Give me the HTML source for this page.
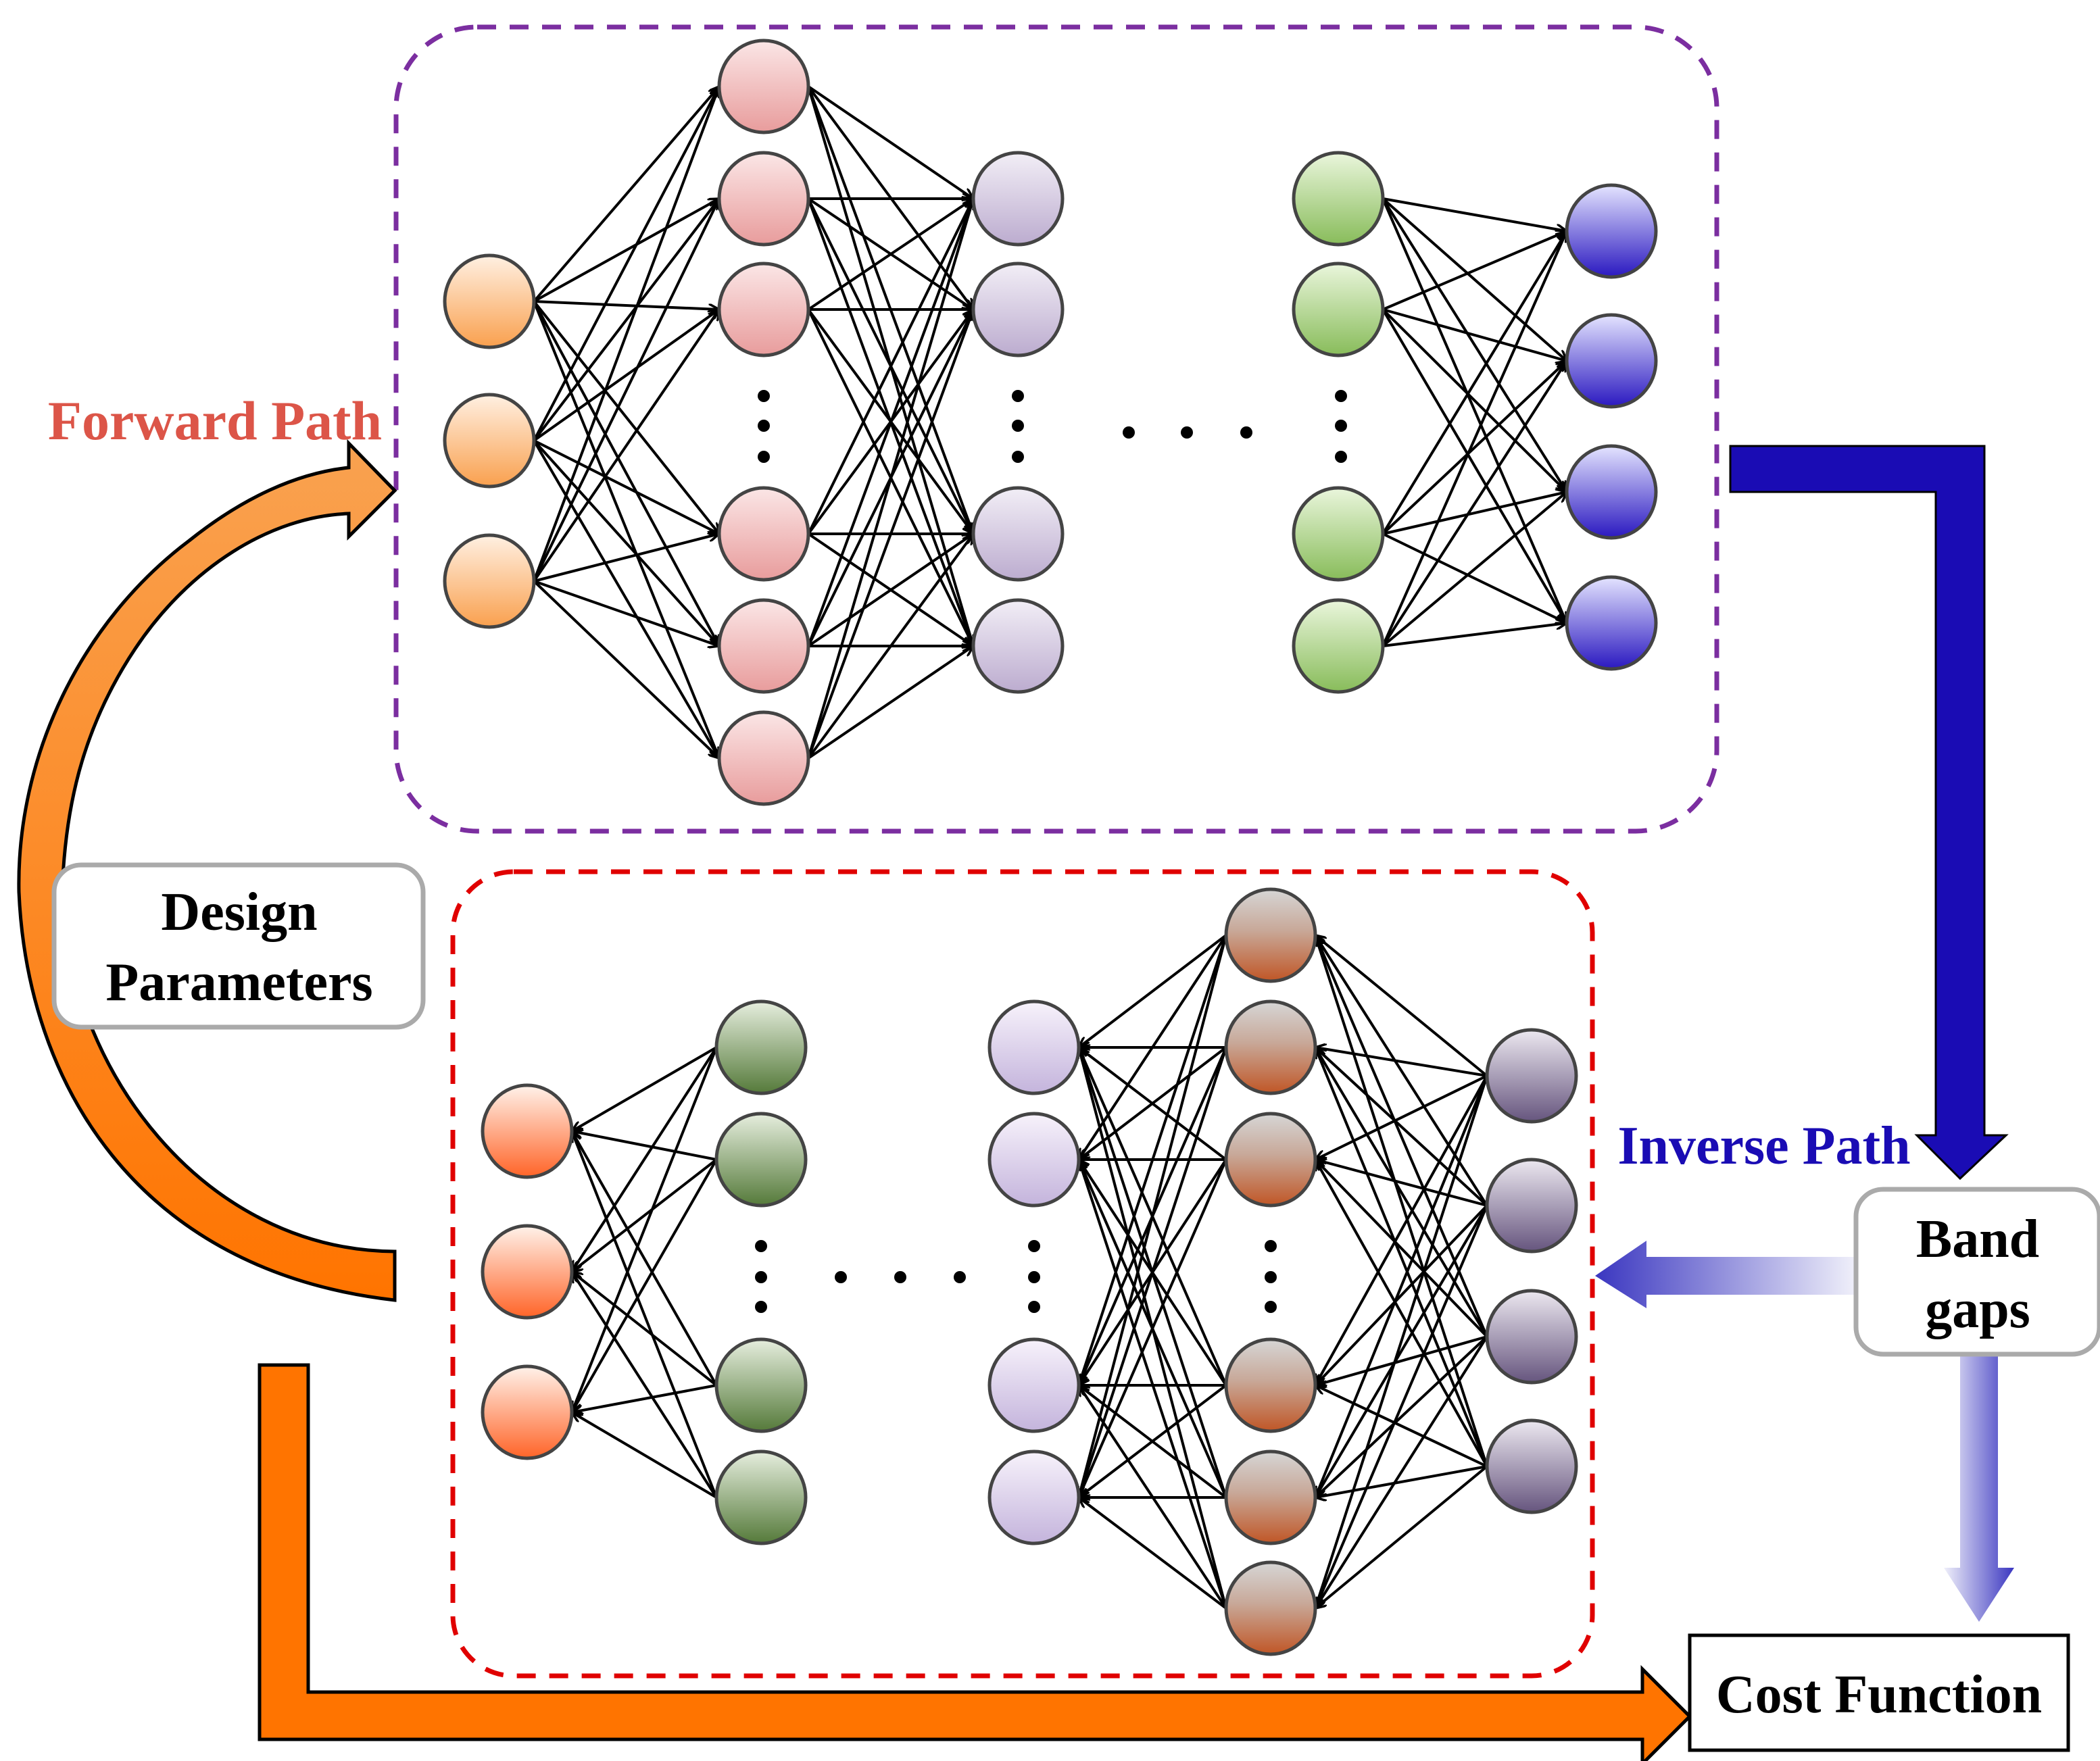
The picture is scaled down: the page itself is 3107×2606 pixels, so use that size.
<!DOCTYPE html>
<html><head><meta charset="utf-8"><style>html,body{margin:0;padding:0;background:#fff}svg{display:block}</style></head>
<body>
<svg id="s" width="3107" height="2606" viewBox="0 0 1553.5 1303" xmlns="http://www.w3.org/2000/svg">
<defs>
<marker id="ah" viewBox="0 0 10 10" refX="10" refY="5" markerWidth="8" markerHeight="8" orient="auto" markerUnits="userSpaceOnUse"><path d="M0,0 L10,5 L0,10" fill="none" stroke="#000" stroke-width="2.2"/></marker>
<linearGradient id="g1" x1="0" y1="0" x2="0" y2="1"><stop offset="0" stop-color="#fff0e2"/><stop offset="1" stop-color="#f9a04e"/></linearGradient>
<linearGradient id="g2" x1="0" y1="0" x2="0" y2="1"><stop offset="0" stop-color="#fbe6e6"/><stop offset="1" stop-color="#e89c9c"/></linearGradient>
<linearGradient id="g3" x1="0" y1="0" x2="0" y2="1"><stop offset="0" stop-color="#f2eef6"/><stop offset="1" stop-color="#bcaccf"/></linearGradient>
<linearGradient id="g4" x1="0" y1="0" x2="0" y2="1"><stop offset="0" stop-color="#eaf6dc"/><stop offset="1" stop-color="#88bc5a"/></linearGradient>
<linearGradient id="g5" x1="0" y1="0" x2="0" y2="1"><stop offset="0" stop-color="#e4e4ff"/><stop offset="1" stop-color="#2a18c0"/></linearGradient>
<linearGradient id="h1" x1="0" y1="0" x2="0" y2="1"><stop offset="0" stop-color="#fff2ea"/><stop offset="1" stop-color="#ff6428"/></linearGradient>
<linearGradient id="h2" x1="0" y1="0" x2="0" y2="1"><stop offset="0" stop-color="#e6eede"/><stop offset="1" stop-color="#557a3a"/></linearGradient>
<linearGradient id="h3" x1="0" y1="0" x2="0" y2="1"><stop offset="0" stop-color="#f7f2fb"/><stop offset="1" stop-color="#c4b4dc"/></linearGradient>
<linearGradient id="h4" x1="0" y1="0" x2="0" y2="1"><stop offset="0" stop-color="#d6d6d6"/><stop offset="0.45" stop-color="#c8a898"/><stop offset="1" stop-color="#c05626"/></linearGradient>
<linearGradient id="h5" x1="0" y1="0" x2="0" y2="1"><stop offset="0" stop-color="#ece8f0"/><stop offset="1" stop-color="#66557e"/></linearGradient>
<linearGradient id="oa" x1="0" y1="0" x2="0" y2="1"><stop offset="0" stop-color="#f9a250"/><stop offset="1" stop-color="#ff7400"/></linearGradient>
<linearGradient id="la" x1="0" y1="0" x2="1" y2="0"><stop offset="0" stop-color="#3a36c0"/><stop offset="1" stop-color="#f0f0fa"/></linearGradient>
<linearGradient id="lb" x1="0" y1="0" x2="1" y2="0"><stop offset="0" stop-color="#f0f0fa"/><stop offset="1" stop-color="#3a36c0"/></linearGradient>
</defs>
<rect x="293" y="20" width="977" height="595" rx="60" fill="none" stroke="#7b2ea0" stroke-width="3.5" stroke-dasharray="14,10"/>
<rect x="335" y="645" width="843" height="595" rx="45" fill="none" stroke="#e00000" stroke-width="3.5" stroke-dasharray="14,10"/>
<g id="lines" stroke="#000" stroke-width="2"></g>
<g id="nodes" stroke="#444" stroke-width="2.5"></g>
<g fill="#000">
<circle cx="565" cy="293" r="4.5"/><circle cx="565" cy="315" r="4.5"/><circle cx="565" cy="338" r="4.5"/>
<circle cx="753" cy="293" r="4.5"/><circle cx="753" cy="315" r="4.5"/><circle cx="753" cy="338" r="4.5"/>
<circle cx="992" cy="293" r="4.5"/><circle cx="992" cy="315" r="4.5"/><circle cx="992" cy="338" r="4.5"/>
<circle cx="835" cy="320" r="4.5"/><circle cx="878" cy="320" r="4.5"/><circle cx="922" cy="320" r="4.5"/>
<circle cx="563" cy="922" r="4.5"/><circle cx="563" cy="945" r="4.5"/><circle cx="563" cy="967" r="4.5"/>
<circle cx="765" cy="922" r="4.5"/><circle cx="765" cy="945" r="4.5"/><circle cx="765" cy="967" r="4.5"/>
<circle cx="940" cy="922" r="4.5"/><circle cx="940" cy="945" r="4.5"/><circle cx="940" cy="967" r="4.5"/>
<circle cx="622" cy="945" r="4.5"/><circle cx="666" cy="945" r="4.5"/><circle cx="710" cy="945" r="4.5"/>
</g>
<path d="M292,962 C100,940 20,800 14,660 C12,560 60,460 140,400 C180,368 220,350 258,346 L258,328 L292,363 L258,397 L258,380 C200,382 140,420 100,480 C60,540 48,600 46,660 C50,790 150,925 292,926 Z" fill="url(#oa)" stroke="#000" stroke-width="2.5"/>
<path d="M192,1010 L228,1010 L228,1252 L1215,1252 L1215,1235 L1250,1270 L1215,1305 L1215,1287 L192,1287 Z" fill="#ff7400" stroke="#000" stroke-width="2.5"/>
<path d="M1280,330 L1468,330 L1468,840 L1484,840 L1450,872 L1418,840 L1432,840 L1432,364 L1280,364 Z" fill="#1a0cb4" stroke="#000" stroke-width="1.5"/>
<path d="M1373,930 L1218,930 L1218,918 L1180,944 L1218,968 L1218,958 L1373,958 Z" fill="url(#la)"/>
<path d="M1450,1002 L1478,1002 L1478,1160 L1490,1160 L1464,1200 L1438,1160 L1450,1160 Z" fill="url(#lb)"/>
<rect x="40" y="640" width="273" height="120" rx="20" fill="#fff" stroke="#aaa" stroke-width="3.5"/>
<rect x="1373" y="880" width="180" height="122" rx="20" fill="#fff" stroke="#aaa" stroke-width="3.5"/>
<rect x="1250" y="1210" width="280" height="85" fill="#fff" stroke="#000" stroke-width="2.5"/>
<g font-family="Liberation Serif, serif" font-weight="bold" text-anchor="middle">
<text x="159" y="325" font-size="41" fill="#dc5548">Forward Path</text>
<text x="1305" y="861" font-size="40" fill="#1a0cb4">Inverse Path</text>
<text x="177" y="688" font-size="40">Design</text>
<text x="177" y="740" font-size="40">Parameters</text>
<text x="1463" y="930" font-size="40">Band</text>
<text x="1463" y="982" font-size="40">gaps</text>
<text x="1390" y="1267" font-size="40">Cost Function</text>
</g>
<script>
var L=document.getElementById('lines'),N=document.getElementById('nodes'),ns='http://www.w3.org/2000/svg',R=33;
function layer(x,ys,g){return ys.map(function(y){return {x:x,y:y,g:g};});}
var F=[layer(362,[223,326,430],'g1'),layer(565,[64,147,229,395,478,561],'g2'),layer(753,[147,229,395,478],'g3'),layer(990,[147,229,395,478],'g4'),layer(1192,[171,267,364,461],'g5')];
var I=[layer(390,[837,941,1045],'h1'),layer(563,[775,858,1025,1108],'h2'),layer(765,[775,858,1025,1108],'h3'),layer(940,[692,775,858,1025,1108,1190],'h4'),layer(1133,[796,892,989,1085],'h5')];
function conn(A,B){A.forEach(function(a){B.forEach(function(b){var dx=b.x-a.x,s=Math.sign(dx);
var l=document.createElementNS(ns,'line');l.setAttribute('x1',a.x+s*R);l.setAttribute('y1',a.y);
l.setAttribute('x2',b.x-s*R);l.setAttribute('y2',b.y);l.setAttribute('marker-end','url(#ah)');L.appendChild(l);});});}
conn(F[0],F[1]);conn(F[1],F[2]);conn(F[3],F[4]);
conn(I[1],I[0]);conn(I[3],I[2]);conn(I[4],I[3]);
F.concat(I).forEach(function(ly){ly.forEach(function(n){var c=document.createElementNS(ns,'ellipse');c.setAttribute('cx',n.x);c.setAttribute('cy',n.y);c.setAttribute('rx',R);c.setAttribute('ry',34);c.setAttribute('fill','url(#'+n.g+')');N.appendChild(c);});});
</script>
</svg>
</body></html>
